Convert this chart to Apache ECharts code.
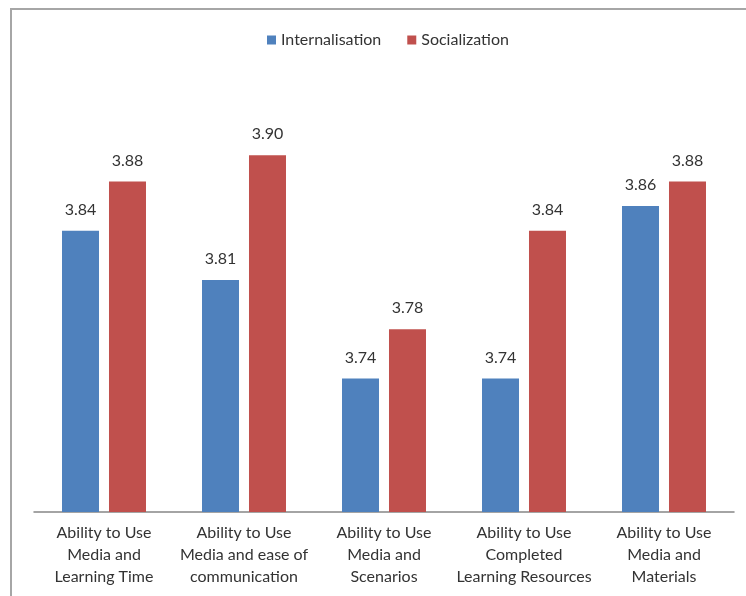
<!DOCTYPE html>
<html>
<head>
<meta charset="utf-8">
<script src="https://cdn.jsdelivr.net/npm/echarts@6/dist/echarts.min.js"></script>
<style>
  html, body { margin: 0; padding: 0; background: #fff; }
  #chart { width: 746px; height: 596px; }
</style>
</head>
<body>
<div id="chart"></div>
<script>
// categories on the x axis
var categories = [
    'Ability to Use\nMedia and\nLearning Time',
    'Ability to Use\nMedia and ease of\ncommunication',
    'Ability to Use\nMedia and\nScenarios',
    'Ability to Use\nCompleted\nLearning Resources',
    'Ability to Use\nMedia and\nMaterials'
];
var seriesNames = ['Internalisation', 'Socialization'];
// values (labels show them rounded to 2 decimals)
var internalisation = [3.844, 3.810, 3.742, 3.742, 3.861];
var socialization   = [3.878, 3.896, 3.776, 3.844, 3.878];

var textFont = 'Lato';

function get_bar_chart() {
    var myChart = echarts.init(document.getElementById('chart'));
    var labelOpt = {
        show: true,
        position: 'top',
        distance: 13,
        color: '#333',
        fontFamily: textFont,
        fontSize: 16,
        formatter: function (p) { return p.value.toFixed(2); }
    };
    var option = {
        animation: false,
        color: ['#4F81BD', '#C0504D'],
        graphic: [{
            type: 'polyline',
            shape: { points: [[11, 596], [11, 9], [746, 9]] },
            style: { stroke: '#a6a6a6', lineWidth: 2, fill: null }
        }],
        legend: {
            data: seriesNames,
            top: 27,
            left: 262,
            itemWidth: 9,
            itemHeight: 9,
            itemGap: 26,
            icon: 'rect',
            textStyle: { color: '#333', fontFamily: textFont, fontSize: 16, padding: [0, 0, 0, 0] }
        },
        grid: { left: 34, right: 12, top: 77, bottom: 84 },
        xAxis: {
            type: 'category',
            data: categories,
            axisLine: { lineStyle: { color: '#868686', width: 1.5 } },
            axisTick: { show: false },
            axisLabel: {
                color: '#333',
                fontFamily: textFont,
                fontSize: 16,
                lineHeight: 22,
                margin: 10,
                interval: 0
            }
        },
        yAxis: {
            type: 'value',
            min: 3.65,
            max: 3.95,
            show: false,
            splitLine: { show: false }
        },
        series: [
            {
                name: seriesNames[0],
                type: 'bar',
                data: internalisation,
                barWidth: 37,
                barGap: '27%',
                label: labelOpt
            },
            {
                name: seriesNames[1],
                type: 'bar',
                data: socialization,
                barWidth: 37,
                label: labelOpt
            }
        ]
    };
    myChart.setOption(option);
}

get_bar_chart();
</script>
</body>
</html>
